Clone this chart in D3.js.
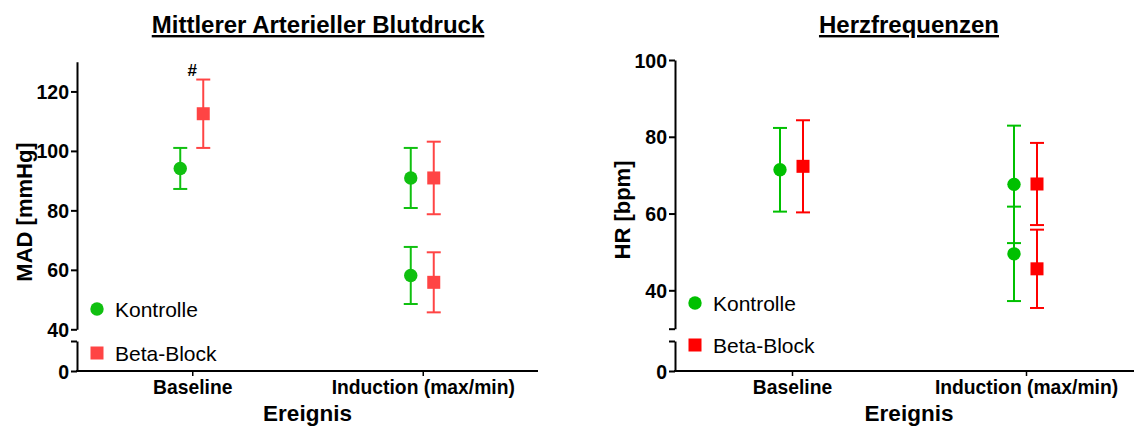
<!DOCTYPE html>
<html>
<head>
<meta charset="utf-8">
<script src="https://cdn.jsdelivr.net/npm/d3@7/dist/d3.min.js"></script>
<style>
  html, body { margin: 0; padding: 0; background: #fff; }
  svg { display: block; font-family: "Liberation Sans", Arial, Helvetica, sans-serif; }
</style>
</head>
<body>
<svg id="chart" width="1134" height="427"></svg>
<script>
// ---------- data ----------
const categories = ["Baseline", "Induction (max/min)"];
const pointCategories = ["Baseline", "Induction (max/min)", "Induction (max/min)"];
const seriesNames = ["Kontrolle", "Beta-Block"];

// Mittlerer Arterieller Blutdruck (MAD, mmHg): mean and error
const madKontrolleMean = [94.1, 90.9, 58.1];
const madKontrolleErr  = [6.9, 10.1, 9.6];
const madBetaMean      = [112.5, 90.9, 55.8];
const madBetaErr       = [11.5, 12.2, 10.1];
const madTicks = [40, 60, 80, 100, 120];
const madMarks = ["#", "", ""];   // significance marks on Beta-Block

// Herzfrequenzen (HR, bpm)
const hrKontrolleMean = [71.4, 67.6, 49.5];
const hrKontrolleErr  = [10.9, 15.3, 12.3];
const hrBetaMean      = [72.3, 67.7, 45.6];
const hrBetaErr       = [12.0, 10.7, 10.2];
const hrTicks = [30, 40, 60, 80, 100];

// ---------- drawing ----------
const svg = d3.select("#chart");

function drawPanel(cfg) {
  const g = svg.append("g");
  const x = d3.scalePoint().domain(categories).range([cfg.x0, cfg.x1]).padding(0.5);
  const yU = d3.scaleLinear().domain(cfg.upperDomain).range([cfg.yBreakTop, cfg.yTop]);
  const yL = d3.scaleLinear().domain([0, 10]).range([cfg.yBottom, cfg.yLowerTop]);

  // y axis upper
  const axU = d3.axisLeft(yU).tickValues(cfg.ticks).tickSize(6).tickSizeOuter(0)
    .tickFormat(d => cfg.labelTicks.includes(d) ? d : "");
  const gU = g.append("g").attr("transform", `translate(${cfg.x0},0)`).call(axU);
  // y axis lower
  const axL = d3.axisLeft(yL).tickValues([0, 10]).tickSize(6).tickSizeOuter(0)
    .tickFormat(d => d === 0 ? "0" : "");
  const gL = g.append("g").attr("transform", `translate(${cfg.x0},0)`).call(axL);
  [gU, gL].forEach(a => {
    a.selectAll("path.domain").attr("stroke", "#000").attr("stroke-width", 2);
    a.selectAll(".tick line").attr("stroke", "#000").attr("stroke-width", 2);
    a.selectAll(".tick text").attr("font-size", 19.5).attr("font-weight", "bold")
      .attr("fill", "#000").attr("x", -8).attr("dy", "0.36em")
      .style("font-family", "'Liberation Sans', Arial, sans-serif");
  });

  // x axis
  const axX = d3.axisBottom(x).tickSize(5).tickSizeOuter(0);
  const gX = g.append("g").attr("transform", `translate(0,${cfg.yBottom})`).call(axX);
  gX.selectAll("path.domain").attr("stroke", "#000").attr("stroke-width", 2)
    .attr("d", `M${cfg.x0 - 1},0H${cfg.x1}`);
  gX.selectAll(".tick line").attr("stroke", "#000").attr("stroke-width", 1.5);
  gX.selectAll(".tick text").attr("font-size", 19.3).attr("font-weight", "bold")
    .attr("fill", "#000").attr("y", 9).attr("dy", "0.71em")
    .style("font-family", "'Liberation Sans', Arial, sans-serif");

  // titles
  g.append("text").attr("x", cfg.titleX).attr("y", 33).attr("text-anchor", "middle")
    .attr("font-size", 24).attr("font-weight", "bold").attr("text-decoration", "underline")
    .text(cfg.title);
  g.append("text").attr("transform", `translate(${cfg.yLabelX},${cfg.yLabelY}) rotate(-90)`)
    .attr("text-anchor", "middle").attr("font-size", 22).attr("font-weight", "bold")
    .text(cfg.yLabel);
  g.append("text").attr("x", (cfg.x0 + cfg.x1) / 2).attr("y", 421).attr("text-anchor", "middle")
    .attr("font-size", 22.5).attr("font-weight", "bold").text("Ereignis");

  // series
  const series = [
    { mean: cfg.kMean, err: cfg.kErr, color: cfg.green, shape: "circle", off: -12 },
    { mean: cfg.bMean, err: cfg.bErr, color: cfg.red, shape: "square", off: 11 }
  ];
  const cap = 7;
  series.forEach(s => {
    const pts = s.mean.map((m, i) => ({ cat: pointCategories[i], m, e: s.err[i] }));
    const eg = g.append("g");
    pts.forEach(p => {
      const cx = x(p.cat) + s.off;
      const yt = yU(p.m + p.e), yb = yU(p.m - p.e);
      eg.append("line").attr("x1", cx).attr("x2", cx).attr("y1", yt).attr("y2", yb)
        .attr("stroke", s.color).attr("stroke-width", 2);
      [yt, yb].forEach(yy => eg.append("line").attr("x1", cx - cap).attr("x2", cx + cap)
        .attr("y1", yy).attr("y2", yy).attr("stroke", s.color).attr("stroke-width", 2));
    });
    pts.forEach(p => {
      const cx = x(p.cat) + s.off, cy = yU(p.m);
      if (s.shape === "circle") {
        g.append("circle").attr("cx", cx).attr("cy", cy).attr("r", 6.7).attr("fill", s.color);
      } else {
        g.append("rect").attr("x", cx - 6.5).attr("y", cy - 6.5).attr("width", 13).attr("height", 13)
          .attr("fill", s.color);
      }
    });
  });

  // significance marks
  if (cfg.marks) {
    cfg.marks.forEach((mk, i) => {
      if (!mk) return;
      const p = pointCategories[i];
      g.append("text").attr("x", x(p)).attr("y", yU(cfg.bMean[i] + cfg.bErr[i]) - 4)
        .attr("text-anchor", "middle").attr("font-size", 17).attr("font-weight", "bold").text(mk);
    });
  }

  // legend
  const lx = cfg.x0 + 20;
  g.append("circle").attr("cx", lx).attr("cy", cfg.legY1).attr("r", 6.7).attr("fill", cfg.green);
  g.append("text").attr("x", lx + 18).attr("y", cfg.legY1 + 7.5).attr("font-size", 21).text(seriesNames[0]);
  g.append("rect").attr("x", lx - 6.5).attr("y", cfg.legY2 - 6.5).attr("width", 13).attr("height", 13)
    .attr("fill", cfg.red);
  g.append("text").attr("x", lx + 18).attr("y", cfg.legY2 + 7.5).attr("font-size", 21).text(seriesNames[1]);
}

drawPanel({
  x0: 77, x1: 538, yTop: 61.7, yBreakTop: 329.3, yLowerTop: 341, yBottom: 371,
  upperDomain: [40, 130], ticks: madTicks, labelTicks: madTicks,
  title: "Mittlerer Arterieller Blutdruck", titleX: 318,
  yLabel: "MAD [mmHg]", yLabelX: 32, yLabelY: 212,
  kMean: madKontrolleMean, kErr: madKontrolleErr, bMean: madBetaMean, bErr: madBetaErr,
  green: "#10c010", red: "#ff4444", marks: madMarks, legY1: 309, legY2: 353
});

drawPanel({
  x0: 675, x1: 1143, yTop: 60, yBreakTop: 328.7, yLowerTop: 341, yBottom: 371,
  upperDomain: [30, 100], ticks: hrTicks, labelTicks: [40, 60, 80, 100],
  title: "Herzfrequenzen", titleX: 909,
  yLabel: "HR [bpm]", yLabelX: 630, yLabelY: 210,
  kMean: hrKontrolleMean, kErr: hrKontrolleErr, bMean: hrBetaMean, bErr: hrBetaErr,
  green: "#00c000", red: "#ff0000", marks: null, legY1: 303, legY2: 345
});
</script>
</body>
</html>
